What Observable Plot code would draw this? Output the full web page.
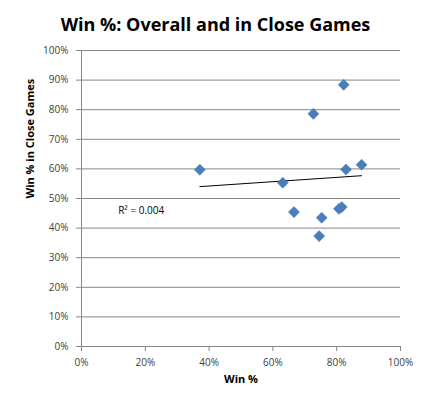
<!DOCTYPE html>
<html>
<head>
<meta charset="utf-8">
<script src="https://cdn.jsdelivr.net/npm/d3@7"></script>
<script src="https://cdn.jsdelivr.net/npm/@observablehq/plot@0.6"></script>
<style>
  html, body { margin: 0; padding: 0; background: #fff; }
  #wrap { position: relative; width: 427px; height: 399px; }
  #title { position: absolute; left: 0; top: 12px; width: 431px; text-align: center;
           font-family: "Open Sans", sans-serif; font-weight: bold; font-size: 18px; color: #000; }
  #wrap svg { position: absolute; left: 0; top: 0; }
</style>
</head>
<body>
<div id="wrap"><div id="title">Win %: Overall and in Close Games</div></div>
<script>
const titleText = "Win %: Overall and in Close Games";
const xLabel = "Win %";
const yLabel = "Win % in Close Games";
const winPct   = [0.371, 0.822, 0.727, 0.829, 0.878, 0.631, 0.666, 0.753, 0.745, 0.807, 0.816];
const closePct = [0.597, 0.884, 0.786, 0.598, 0.614, 0.553, 0.454, 0.435, 0.373, 0.465, 0.471];
const xTicks = [0, 0.2, 0.4, 0.6, 0.8, 1.0];
const yTicks = [0, 0.1, 0.2, 0.3, 0.4, 0.5, 0.6, 0.7, 0.8, 0.9, 1.0];
const r2Label = "R² = 0.004";
const r2Pos = {x: 0.115, y: 0.46};

document.getElementById("title").textContent = titleText;
const data = winPct.map((w, i) => ({win: w, close: closePct[i]}));
const pct = d => Math.round(d * 100) + "%";
const font = "Open Sans, sans-serif";

const chart = Plot.plot({
  width: 427, height: 399,
  marginLeft: 81, marginRight: 27, marginTop: 50, marginBottom: 53,
  style: {fontFamily: font, fontSize: "10px", color: "#404040", background: "white"},
  x: {domain: [0, 1], ticks: xTicks, tickFormat: pct},
  y: {domain: [0, 1], ticks: yTicks, tickFormat: pct},
  marks: [
    Plot.gridY(yTicks, {stroke: "#868686", strokeOpacity: 1, strokeWidth: 1}),
    Plot.ruleY([0], {stroke: "#868686"}),
    Plot.ruleX([0], {stroke: "#868686"}),
    Plot.axisY({ticks: yTicks, tickFormat: pct, tickSize: 5, tickPadding: 8, stroke: "#868686", label: null, fill: "#404040"}),
    Plot.axisX({ticks: xTicks, tickFormat: pct, tickSize: 5, tickPadding: 7, stroke: "#868686", label: null, fill: "#404040"}),
    Plot.text([xLabel], {frameAnchor: "bottom", dy: 36, text: d => d, fontWeight: "bold", fontSize: 11, fill: "#000"}),
    Plot.text([yLabel], {frameAnchor: "left", dx: -51, rotate: -90, text: d => d, fontWeight: "bold", fontSize: 11, fill: "#000"}),
    Plot.linearRegressionY(data, {x: "win", y: "close", ci: 0, stroke: "black", strokeWidth: 1}),
    Plot.dot(data, {x: "win", y: "close", symbol: "diamond2", r: 5, fill: "#4A7EBB", stroke: "#4A7EBB", strokeWidth: 0.5}),
    Plot.text([r2Pos], {x: "x", y: "y", text: () => r2Label, textAnchor: "start", fontSize: 10, fill: "#000"})
  ]
});
document.getElementById("wrap").insertBefore(chart, document.getElementById("title"));
</script>
</body>
</html>
